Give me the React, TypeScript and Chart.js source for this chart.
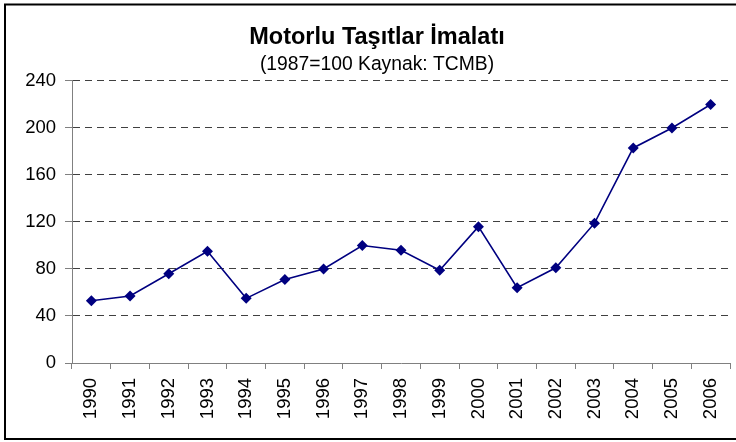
import React, { useEffect, useRef } from "react";
import { Chart, registerables } from "chart.js";

Chart.register(...registerables);

const years = ["1990", "1991", "1992", "1993", "1994", "1995", "1996", "1997", "1998", "1999", "2000", "2001", "2002", "2003", "2004", "2005", "2006"];
const values = [53, 57, 76, 95, 55, 71, 80, 100, 96, 79, 116, 64, 81, 119, 183, 200, 220];
const titleText = "Motorlu Taşıtlar İmalatı";
const subtitleText = "(1987=100 Kaynak: TCMB)";
const yMin = 0;
const yMax = 240;
const yStep = 40;

const FONT = "'Liberation Sans', Arial, sans-serif";

const frame = {
  id: "frame",
  afterDraw(chart: any) {
    const ctx = chart.ctx;
    ctx.save();
    ctx.strokeStyle = "#000";
    ctx.lineWidth = 2;
    ctx.strokeRect(5, 4.5, 740, 434.5);
    ctx.restore();
  },
};

export default function App() {
  const ref = useRef<HTMLCanvasElement>(null);
  useEffect(() => {
    if (!ref.current) return;
    const chart = new Chart(ref.current, {
      type: "line",
      data: {
        labels: years,
        datasets: [
          {
            data: values,
            borderColor: "#000080",
            backgroundColor: "#000080",
            borderWidth: 1.6,
            pointStyle: "rectRot",
            pointRadius: 5.5,
            pointBackgroundColor: "#000080",
            pointBorderColor: "#000080",
            pointBorderWidth: 0,
            tension: 0,
          },
        ],
      },
      options: {
        animation: false,
        responsive: false,
        devicePixelRatio: 1,
        layout: { padding: { top: 0, left: 24, right: 6, bottom: 0 } },
        plugins: {
          legend: { display: false },
          tooltip: { enabled: false },
          title: {
            display: true,
            text: titleText,
            color: "#000",
            font: { family: FONT, size: 23.5, weight: "bold", lineHeight: 1.2 },
            padding: { top: 23.9, bottom: 0 },
          },
          subtitle: {
            display: true,
            text: subtitleText,
            color: "#000",
            font: { family: FONT, size: 19.3, lineHeight: 1.2 },
            padding: { top: 1.3, bottom: 4.4 },
          },
        },
        scales: {
          x: {
            type: "category",
            offset: true,
            afterFit(scale: any) {
              scale.height = 79;
              scale.paddingLeft = 0;
              scale.paddingRight = 0;
            },
            grid: {
              display: true,
              offset: true,
              drawOnChartArea: false,
              drawTicks: true,
              tickLength: 6,
              color: "#808080",
              lineWidth: 1,
            },
            border: { display: true, color: "#808080", width: 1 },
            ticks: {
              autoSkip: false,
              maxRotation: 90,
              minRotation: 90,
              padding: 9,
              color: "#000",
              font: { family: FONT, size: 18.5 },
            },
          },
          y: {
            min: yMin,
            max: yMax,
            afterFit(scale: any) {
              scale.width = 48;
            },
            grid: {
              drawTicks: true,
              tickLength: 7,
              color: (c: any) => (c.tick && c.tick.value === 0 ? "rgba(0,0,0,0)" : "#404040"),
              tickColor: "#808080",
              lineWidth: 1,
              tickBorderDash: [],
            },
            border: { display: true, color: "#808080", width: 1, dash: [7, 5] },
            ticks: {
              stepSize: yStep,
              padding: 9,
              color: "#000",
              font: { family: FONT, size: 18.5 },
            },
          },
        },
      },
      plugins: [frame],
    });
    return () => chart.destroy();
  }, []);
  return (
    <div style={{ position: "fixed", left: 0, top: 0, width: 736, height: 442, background: "#fff" }}>
      <canvas ref={ref} width={736} height={442} style={{ display: "block", width: 736, height: 442 }} />
    </div>
  );
}
